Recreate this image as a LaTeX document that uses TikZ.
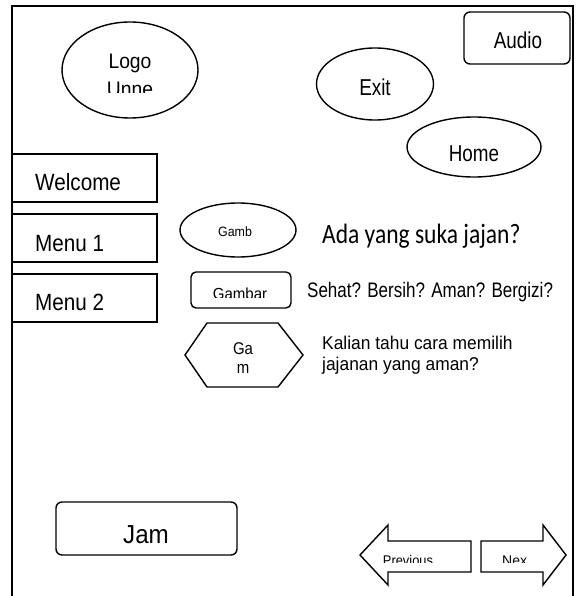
\documentclass[tikz,border=0pt]{standalone}
\usepackage{fontspec}
\setmainfont{Liberation Sans}
\newfontfamily\calfont{Carlito}
\usetikzlibrary{shapes.geometric}

\tikzset{
  outline/.style={draw=black, line width=1.4pt},
  oval/.style={outline, ellipse, inner sep=0pt},
  menubox/.style={outline, rectangle, inner sep=0pt, minimum width=145pt, minimum height=48pt},
  roundbox/.style={outline, rectangle, rounded corners=6pt, inner sep=0pt},
  lbl/.style={inner sep=0pt, anchor=base, font=\fontsize{#1}{#1}\selectfont},
  lblw/.style={inner sep=0pt, anchor=base west, font=\fontsize{#1}{#1}\selectfont},
}

\begin{document}
\begin{tikzpicture}[x=1pt, y=-1pt]
\useasboundingbox (0,0) rectangle (577,596);
\clip (0,0) rectangle (577,596);

% page frame, open at the bottom
\draw[line width=1.8pt] (12,604) -- (12,6) -- (573,6) -- (573,604);

% top area
\node[oval, minimum width=136pt, minimum height=96pt] (logo) at (130,70) {};
\node[lbl=21, xscale=0.92] (logotxt) at (130,69) {Logo};
\begin{scope}
  \clip (60,70) rectangle (200,93);
  \node[lbl=21, xscale=0.92] (unnetxt) at (130,97) {Unne};
\end{scope}

\node[roundbox, minimum width=106pt, minimum height=52pt] (audio) at (517,38) {};
\node[lbl=23, xscale=0.82] (audiotxt) at (518,49) {Audio};

\node[oval, minimum width=117pt, minimum height=72pt] (exit) at (375,84) {};
\node[lbl=23, xscale=0.82] (exittxt) at (375,96) {Exit};

\node[oval, minimum width=134pt, minimum height=60pt] (home) at (474,147) {};
\node[lbl=23, xscale=0.82] (hometxt) at (474,161) {Home};

% left menu
\node[menubox] (welcome) at (84.5,178) {};
\node[lblw=23.5, xscale=0.88] (welcometxt) at (35,190) {Welcome};
\node[menubox] (menu1) at (84.5,238) {};
\node[lblw=23.5, xscale=0.88] (menu1txt) at (35,251) {Menu 1};
\node[menubox] (menu2) at (84.5,298) {};
\node[lblw=23.5, xscale=0.88] (menu2txt) at (35,310) {Menu 2};

% picture placeholders with their captions
\node[oval, minimum width=116pt, minimum height=54pt] (gamb) at (238,230) {};
\node[lbl=13.5, xscale=0.92] (gambtxt) at (235,236) {Gamb};
\node[lblw=28, xscale=0.84] (q1) at (322,243) {\calfont Ada yang suka jajan?};

\node[roundbox, rounded corners=5pt, minimum width=100pt, minimum height=36pt] (gambar) at (241,290) {};
\begin{scope}
  \clip (195,280) rectangle (287,297);
  \node[lbl=16, xscale=0.94] (gambartxt) at (240,299.5) {Gambar};
\end{scope}
\node[lblw=21, xscale=0.81] (q2) at (307,297) {Sehat? Bersih? Aman? Bergizi?};

\draw[outline] (185,355) coordinate (hexw) -- (207,323) -- (278,323) -- (303,355) coordinate (hexe)
  -- (278,387) -- (207,387) -- cycle;
\node[lbl=17, xscale=0.88] (gatxt) at (243,354) {Ga};
\node[lbl=17, xscale=0.88] (mtxt) at (243,373) {m};
\node[lblw=18.5, xscale=0.94] (q3a) at (322,349) {Kalian tahu cara memilih};
\node[lblw=18.5, xscale=0.94] (q3b) at (322,370) {jajanan yang aman?};

% clock
\node[roundbox, minimum width=181pt, minimum height=53pt] (jam) at (146.5,528.5) {};
\node[lbl=26, xscale=0.93] (jamtxt) at (146,543) {Jam};

% navigation arrows
\draw[outline, line join=miter] (360,555) -- (388,525) -- (388,541) -- (471,541)
  -- (471,572) -- (388,572) -- (388,585) -- cycle;
\draw[outline, line join=miter] (566,555) -- (543,525) -- (543,541) -- (481,541)
  -- (481,572) -- (543,572) -- (543,585) -- cycle;
\begin{scope}
  \clip (380,545) rectangle (540,562);
  \node[lbl=14, xscale=0.92] (prevtxt) at (408,565) {Previous};
  \node[lblw=14] (nexttxt) at (502,565) {Nex};
\end{scope}
\end{tikzpicture}
\end{document}
